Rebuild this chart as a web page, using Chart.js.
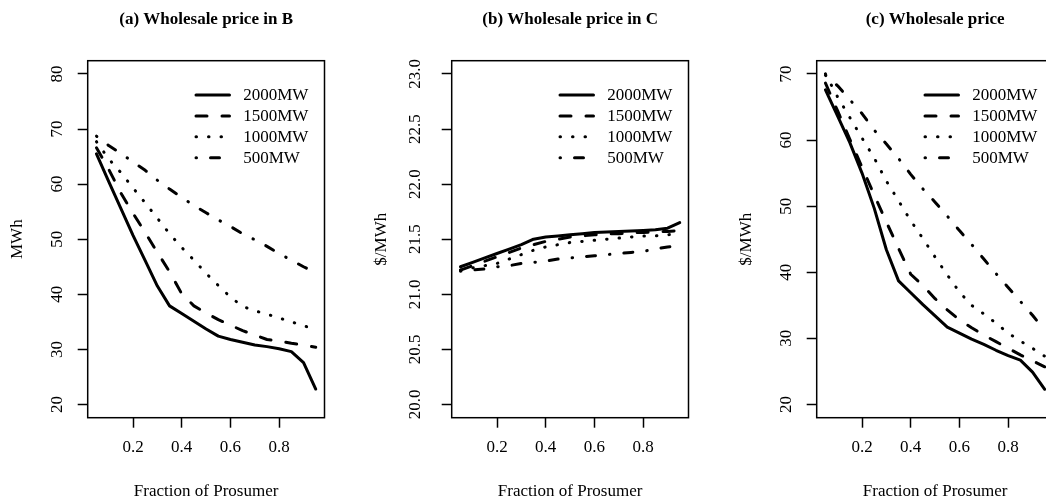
<!DOCTYPE html>
<html>
<head>
<meta charset="utf-8">
<script src="https://cdn.jsdelivr.net/npm/chart.js@4"></script>
<style>
  html, body { margin: 0; padding: 0; background: #fff; overflow: hidden; width: 1046px; height: 497px; }
  canvas { position: absolute; top: 0; }
</style>
</head>
<body>
<canvas id="ca" width="370" height="497" style="left:0px"></canvas>
<canvas id="cb" width="370" height="497" style="left:363.6px"></canvas>
<canvas id="cc" width="370" height="497" style="left:728.6px"></canvas>
<script>
// ---- data ----
const fractions = [0.05, 0.10, 0.15, 0.20, 0.25, 0.30, 0.35, 0.40, 0.45, 0.50, 0.55, 0.60, 0.65, 0.70, 0.75, 0.80, 0.85, 0.90, 0.95];
const seriesNames = ['2000MW', '1500MW', '1000MW', '500MW'];
const xTickValues = [0.2, 0.4, 0.6, 0.8];

const titles = ['(a) Wholesale price in B', '(b) Wholesale price in C', '(c) Wholesale price'];
const yTitles = ['MWh', '$/MWh', '$/MWh'];
const xTitle = 'Fraction of Prosumer';

const yTicksA = [20, 30, 40, 50, 60, 70, 80];
const yTicksB = [20.0, 20.5, 21.0, 21.5, 22.0, 22.5, 23.0];
const yTicksC = [20, 30, 40, 50, 60, 70];

const priceB_2000 = [65.5, 60.5, 55.6, 50.7, 46.1, 41.5, 37.9, 36.5, 35.1, 33.7, 32.4, 31.8, 31.3, 30.8, 30.5, 30.1, 29.6, 27.6, 22.8];
const priceB_1500 = [66.6, 62.7, 58.4, 54.7, 51.2, 47.6, 44.1, 40.1, 37.9, 36.6, 35.4, 34.4, 33.4, 32.6, 31.8, 31.5, 31.1, 30.8, 30.4];
const priceB_1000 = [67.7, 64.6, 62.1, 59.3, 56.6, 53.8, 51.0, 48.5, 46.2, 43.8, 41.6, 39.5, 37.8, 37.0, 36.4, 35.7, 35.0, 34.3, 33.6];
const priceB_500  = [68.7, 67.0, 65.6, 64.0, 62.5, 60.7, 59.1, 57.6, 56.1, 54.8, 53.5, 52.3, 51.0, 49.9, 48.7, 47.4, 46.2, 45.0, 43.9];

const priceC_2000 = [21.25, 21.29, 21.33, 21.37, 21.41, 21.45, 21.50, 21.52, 21.53, 21.54, 21.55, 21.56, 21.565, 21.57, 21.575, 21.58, 21.585, 21.60, 21.65];
const priceC_1500 = [21.22, 21.26, 21.30, 21.34, 21.38, 21.42, 21.45, 21.48, 21.50, 21.52, 21.53, 21.54, 21.55, 21.55, 21.56, 21.56, 21.57, 21.57, 21.58];
const priceC_1000 = [21.22, 21.24, 21.26, 21.28, 21.32, 21.36, 21.40, 21.43, 21.45, 21.47, 21.48, 21.49, 21.50, 21.51, 21.52, 21.53, 21.53, 21.54, 21.55];
const priceC_500  = [21.21, 21.22, 21.23, 21.25, 21.26, 21.28, 21.29, 21.30, 21.32, 21.33, 21.34, 21.35, 21.36, 21.37, 21.38, 21.39, 21.41, 21.43, 21.44];

const price_2000 = [67.6, 63.6, 59.6, 55.0, 49.7, 43.4, 38.7, 36.9, 35.1, 33.4, 31.7, 30.8, 29.9, 29.1, 28.2, 27.4, 26.7, 24.9, 22.3];
const price_1500 = [68.6, 64.4, 60.1, 55.9, 51.7, 47.6, 43.6, 39.7, 38.0, 36.0, 34.3, 32.8, 31.6, 30.5, 29.5, 28.5, 27.5, 26.6, 25.7];
const price_1000 = [70.0, 66.5, 63.4, 60.3, 57.3, 53.8, 50.8, 47.8, 45.1, 42.3, 39.6, 37.0, 35.0, 33.7, 32.3, 30.8, 29.6, 28.5, 27.3];
const price_500  = [69.8, 68.2, 66.1, 64.0, 61.5, 59.4, 57.2, 54.8, 52.6, 50.6, 48.5, 46.3, 44.2, 42.0, 39.8, 37.7, 35.6, 33.5, 31.2];

// ---- styles ----
const FONT = "'Liberation Serif', 'Times New Roman', serif";
const dashes = [[], [11, 15], [0.5, 12], [0.5, 14, 9, 14]];
const LW = 3;

const boxPlugin = {
  id: 'rbox',
  afterDraw(chart) {
    const {ctx, chartArea: a} = chart;
    ctx.save();
    ctx.strokeStyle = '#000';
    ctx.lineWidth = 1.5;
    ctx.setLineDash([]);
    ctx.strokeRect(a.left, a.top, a.right - a.left, a.bottom - a.top);
    // legend (bty = "n")
    ctx.font = '17px ' + FONT;
    ctx.textBaseline = 'middle';
    ctx.textAlign = 'left';
    ctx.fillStyle = '#000';
    chart.data.datasets.forEach((ds, i) => {
      const y = a.top + 34.3 + i * 20.9;
      ctx.beginPath();
      ctx.lineWidth = LW;
      ctx.lineCap = 'round';
      ctx.setLineDash(ds.borderDash || []);
      ctx.moveTo(a.right - 128.5, y);
      ctx.lineTo(a.right - 95, y);
      ctx.stroke();
      ctx.setLineDash([]);
      ctx.fillText(ds.label, a.right - 81.3, y + 1);
    });
    ctx.restore();
  }
};

function makePanel(id, title, yTitle, series, yTicks, yMin, yMax, yDecimals) {
  const ctx = document.getElementById(id);
  return new Chart(ctx, {
    type: 'line',
    data: {
      datasets: series.map((vals, i) => ({
        label: seriesNames[i],
        data: fractions.map((x, j) => ({x: x, y: vals[j]})),
        borderColor: '#000',
        borderWidth: LW,
        borderDash: dashes[i],
        borderCapStyle: 'round',
        borderJoinStyle: 'round',
        pointRadius: 0,
        tension: 0,
        fill: false
      }))
    },
    options: {
      responsive: false,
      animation: false,
      devicePixelRatio: 1,
      layout: { padding: { left: 0, right: 45.5, top: 0, bottom: 0 } },
      plugins: {
        legend: { display: false },
        tooltip: { enabled: false },
        title: {
          display: true,
          text: title,
          fullSize: false,
          color: '#000',
          font: { family: FONT, size: 17, weight: 'bold', lineHeight: 1.2 },
          padding: { top: 9.3, bottom: 31 }
        }
      },
      scales: {
        x: {
          type: 'linear',
          min: 0.014, max: 0.986,
          afterBuildTicks: s => { s.ticks = xTickValues.map(v => ({value: v})); },
          afterFit: s => { s.height = 79.3; },
          border: { display: false },
          grid: { display: true, drawOnChartArea: false, drawTicks: true, tickLength: 10, tickColor: '#000', tickWidth: 1.5 },
          ticks: {
            color: '#000', font: { family: FONT, size: 17 }, padding: 10,
            maxRotation: 0, minRotation: 0,
            callback: v => v.toFixed(1)
          },
          title: { display: true, text: xTitle, color: '#000', font: { family: FONT, size: 17, lineHeight: 0.7 }, padding: 0 }
        },
        y: {
          type: 'linear',
          min: yMin, max: yMax,
          afterBuildTicks: s => { s.ticks = yTicks.map(v => ({value: v})); },
          afterFit: s => { s.width = 87.7; },
          border: { display: false },
          grid: { display: true, drawOnChartArea: false, drawTicks: true, tickLength: 10, tickColor: '#000', tickWidth: 1.5 },
          ticks: {
            color: '#000', font: { family: FONT, size: 17 }, padding: 11.5,
            minRotation: 90, maxRotation: 90, crossAlign: 'center',
            callback: v => v.toFixed(yDecimals)
          },
          title: { display: true, text: yTitle, color: '#000', font: { family: FONT, size: 17, lineHeight: 1.2 }, padding: { top: 7.1, bottom: 0 } }
        }
      }
    },
    plugins: [boxPlugin]
  });
}

makePanel('ca', titles[0], yTitles[0], [priceB_2000, priceB_1500, priceB_1000, priceB_500], yTicksA, 17.6, 82.4, 0);
makePanel('cb', titles[1], yTitles[1], [priceC_2000, priceC_1500, priceC_1000, priceC_500], yTicksB, 19.88, 23.12, 1);
makePanel('cc', titles[2], yTitles[2], [price_2000, price_1500, price_1000, price_500], yTicksC, 18, 72, 0);
</script>
</body>
</html>
